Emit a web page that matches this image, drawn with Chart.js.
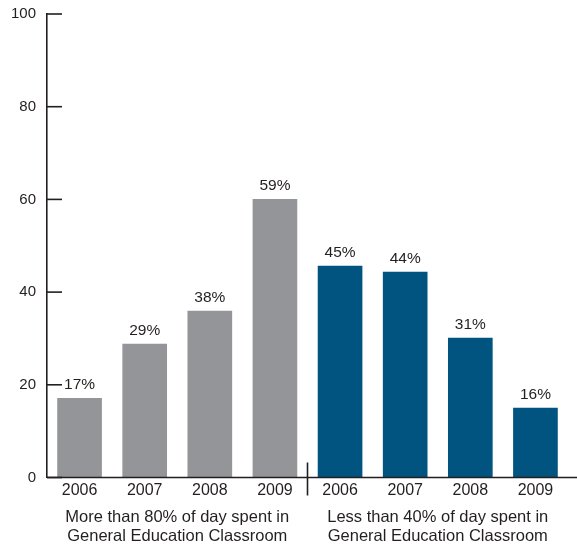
<!DOCTYPE html>
<html>
<head>
<meta charset="utf-8">
<script src="https://cdn.jsdelivr.net/npm/chart.js@4/dist/chart.umd.min.js"></script>
<style>
  html, body { margin: 0; padding: 0; background: #fff; }
  #wrap { width: 577px; height: 544px; }
</style>
</head>
<body>
<div id="wrap"><canvas id="placementChart"></canvas></div>
<script>
const years = ['2006', '2007', '2008', '2009', '2006', '2007', '2008', '2009'];
// bar heights as drawn (the printed labels are slightly different)
const barValues = [17.1, 28.8, 35.9, 60, 45.6, 44.3, 30.1, 15];
const valueLabels = ['17%', '29%', '38%', '59%', '45%', '44%', '31%', '16%'];
const groupLabels = [
    ['More than 80% of day spent in', 'General Education Classroom'],
    ['Less than 40% of day spent in', 'General Education Classroom']
];
const yTicks = [0, 20, 40, 60, 80, 100];

const gray = '#939598';
const blue = '#00547f';
const ink = '#231f20';
const barColors = years.map((_, i) => i < 4 ? gray : blue);
const fontFam = '"Liberation Sans", Arial, Helvetica, sans-serif';

// percent labels over the bars + the axis bits drawn inward
const extras = {
    id: 'extras',
    afterDatasetsDraw(chart) {
        const ctx = chart.ctx;
        const meta = chart.getDatasetMeta(0);
        ctx.save();
        ctx.fillStyle = ink;
        ctx.font = '15.5px ' + fontFam;
        ctx.textAlign = 'center';
        ctx.textBaseline = 'alphabetic';
        meta.data.forEach((bar, i) => {
            ctx.fillText(valueLabels[i], bar.x, bar.y - 9);
        });
        ctx.restore();
    },
    afterDraw(chart) {
        const ctx = chart.ctx;
        const x = chart.scales.x;
        const y = chart.scales.y;
        const area = chart.chartArea;
        ctx.save();
        ctx.strokeStyle = ink;
        ctx.lineWidth = 1.6;
        // y tick marks pointing into the plot
        yTicks.forEach(v => {
            const py = y.getPixelForValue(v);
            ctx.beginPath();
            ctx.moveTo(area.left, py);
            ctx.lineTo(area.left + 15, py);
            ctx.stroke();
        });
        // baseline runs to the right edge
        const base = y.getPixelForValue(0);
        ctx.beginPath();
        ctx.moveTo(area.left, base);
        ctx.lineTo(chart.width, base);
        ctx.stroke();
        // divider between the two groups
        const mid = (x.getPixelForValue(3) + x.getPixelForValue(4)) / 2;
        ctx.beginPath();
        ctx.moveTo(mid, base - 15);
        ctx.lineTo(mid, base + 18);
        ctx.stroke();
        ctx.restore();
    }
};

const ctx = document.getElementById('placementChart').getContext('2d');
const placementChart = new Chart(ctx, {
    type: 'bar',
    data: {
        labels: years,
        datasets: [{
            data: barValues,
            backgroundColor: barColors,
            borderWidth: 0,
            barThickness: 44,
            xAxisID: 'x',
            yAxisID: 'y'
        }]
    },
    options: {
        responsive: true,
        maintainAspectRatio: false,
        animation: false,
        layout: { padding: { left: 0, right: 9, top: 14, bottom: 0 } },
        plugins: {
            legend: { display: false },
            tooltip: { enabled: false }
        },
        scales: {
            x: {
                position: 'bottom',
                weight: 0,
                afterFit(scale) { scale.height = 24; },
                grid: { display: false, drawTicks: false },
                border: { display: false },
                ticks: {
                    color: ink,
                    padding: 3,
                    font: { family: fontFam, size: 16 }
                }
            },
            group: {
                type: 'category',
                position: 'bottom',
                weight: 1,
                labels: groupLabels,
                offset: true,
                afterFit(scale) { scale.height = 42.5; },
                grid: { display: false, drawTicks: false },
                border: { display: false },
                ticks: {
                    color: ink,
                    padding: 6,
                    maxRotation: 0,
                    autoSkip: false,
                    font: { family: fontFam, size: 16.5, lineHeight: 1.15 }
                }
            },
            y: {
                min: 0,
                max: 100,
                afterFit(scale) {
                    scale.width = 47;
                    scale.paddingTop = 0;
                    scale.paddingBottom = 0;
                },
                afterBuildTicks(scale) { scale.ticks = yTicks.map(v => ({ value: v })); },
                grid: { display: false, drawTicks: false },
                border: { display: true, color: ink, width: 1.6 },
                ticks: {
                    color: ink,
                    padding: 11,
                    font: { family: fontFam, size: 15 }
                }
            }
        }
    },
    plugins: [extras]
});
</script>
</body>
</html>
